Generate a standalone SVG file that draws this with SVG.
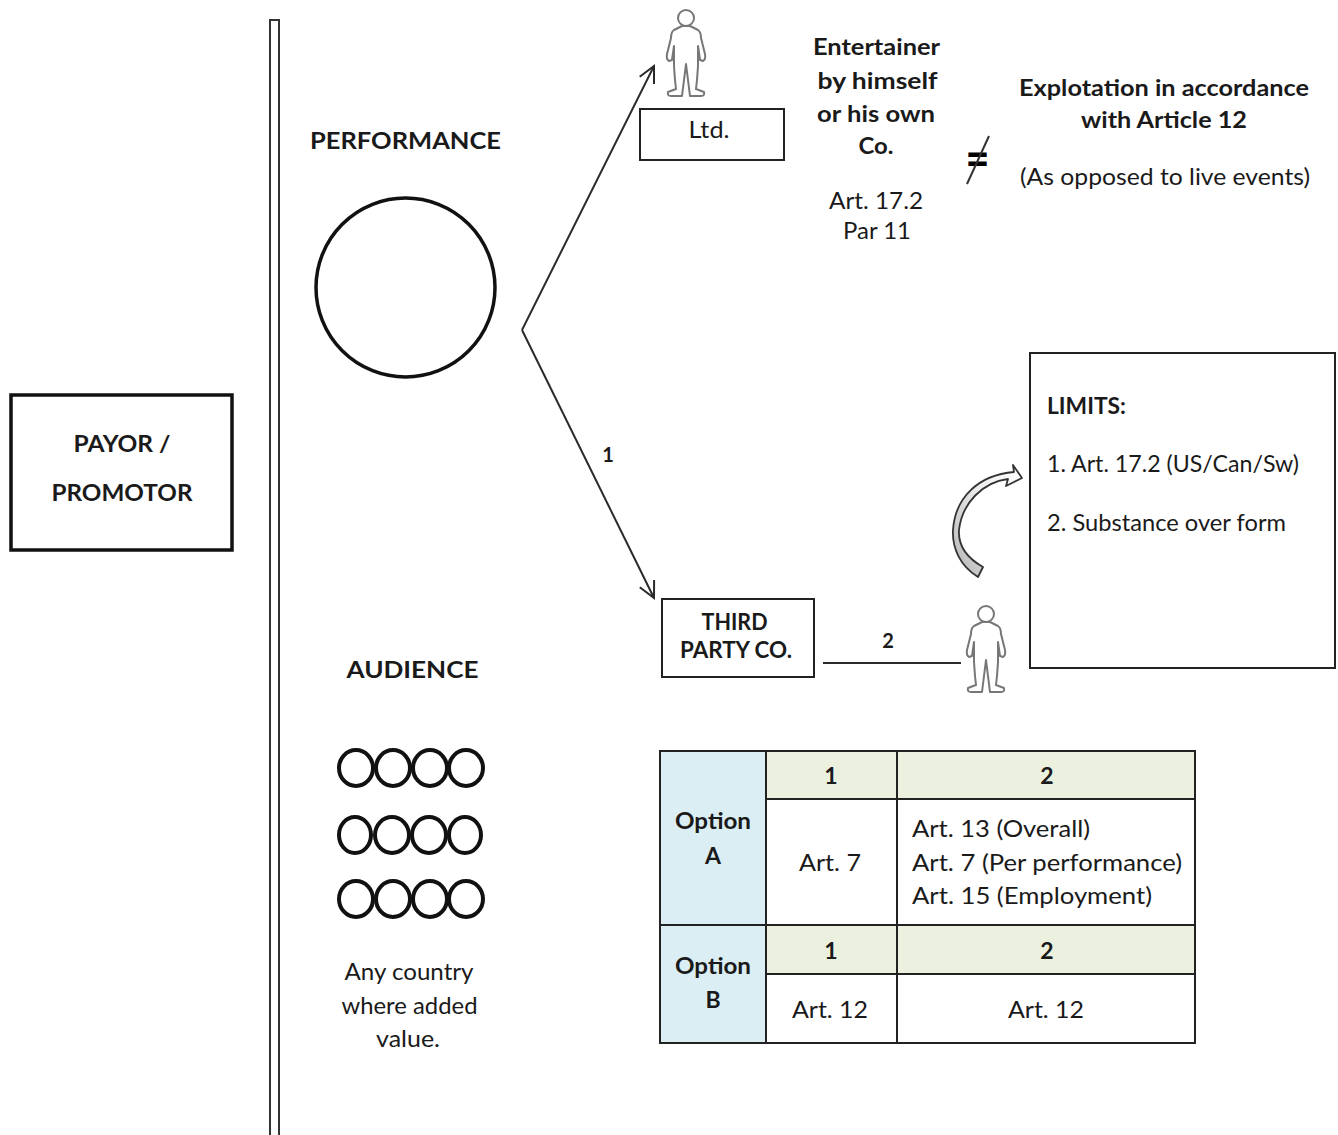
<svg xmlns="http://www.w3.org/2000/svg" width="1338" height="1135" viewBox="0 0 1338 1135">
<style>
text{font-family:Lato,"Noto Sans","Liberation Sans",sans-serif;fill:#1a1a1a;text-anchor:middle;font-size:23px}
.b{font-weight:700}
.s{text-anchor:start}
.box{fill:#fff;stroke:#222;stroke-width:2}
.ln{fill:none;stroke:#2a2a2a;stroke-width:2}
.c{fill:none;stroke:#111;stroke-width:4}
.fig{fill:#fff;stroke:#777;stroke-width:2;stroke-linejoin:round}
.blue{fill:#daeef3;stroke:#222;stroke-width:2}
.green{fill:#ebf1de;stroke:#222;stroke-width:2}
</style>
<defs>
<marker id="open" markerUnits="userSpaceOnUse" markerWidth="24" markerHeight="24" refX="19" refY="12" orient="auto"><path d="M3,4 L19,12 L3,20" fill="none" stroke="#2a2a2a" stroke-width="2"/></marker>
<linearGradient id="curve" x1="0" y1="1" x2="1" y2="0"><stop offset="0" stop-color="#b4b4b4"/><stop offset="0.6" stop-color="#eee"/><stop offset="1" stop-color="#fff"/></linearGradient>
<g id="person"><circle cx="0" cy="18" r="8"/><path d="M-4,26 L-12,30 Q-15,32 -15,38 L-19,54 Q-20,59 -17,61 L-14,60 L-12,46 L-12,66 L-11,80 L-10,89 L-18,92 Q-19,96 -15,96 L-4,96 L-2,80 L0,64 L2,80 L4,96 L15,96 Q19,96 18,92 L10,89 L11,80 L12,66 L12,46 L14,60 L17,61 Q20,59 19,54 L15,38 Q15,32 12,30 L4,26 Z"/></g>
</defs>

<g id="connectors">
<line class="ln" x1="522" y1="330" x2="654" y2="66" marker-end="url(#open)"/>
<line class="ln" x1="522" y1="330" x2="654" y2="598" marker-end="url(#open)"/>
<line class="ln" x1="823" y1="663" x2="961" y2="663"/>
<text class="b" x="608" y="462" style="font-size:20px">1</text>
<text class="b" x="888" y="648" style="font-size:20px">2</text>
</g>

<g id="divider"><rect x="270" y="20" width="9" height="1125" fill="#fff" stroke="#333" stroke-width="2"/></g>

<g id="payor">
<rect x="11" y="395" width="221" height="155" fill="#fff" stroke="#111" stroke-width="3.5"/>
<text class="b" x="122" y="452" textLength="97" lengthAdjust="spacingAndGlyphs">PAYOR /</text>
<text class="b" x="122" y="501" textLength="141" lengthAdjust="spacingAndGlyphs">PROMOTOR</text>
</g>

<g id="performance">
<text class="b" x="405.500" y="149" textLength="191" lengthAdjust="spacingAndGlyphs">PERFORMANCE</text>
<circle cx="405.500" cy="287.500" r="89.500" fill="#fff" stroke="#111" stroke-width="3.500"/>
</g>

<g id="audience">
<text class="b" x="412.500" y="678" textLength="132" lengthAdjust="spacingAndGlyphs">AUDIENCE</text>
<ellipse class="c" cx="356" cy="768" rx="17" ry="18"/><ellipse class="c" cx="393" cy="768" rx="17" ry="18"/><ellipse class="c" cx="430" cy="768" rx="17" ry="18"/><ellipse class="c" cx="466" cy="768" rx="17" ry="18"/>
<ellipse class="c" cx="355" cy="835" rx="16" ry="18"/><ellipse class="c" cx="392" cy="835" rx="17" ry="18"/><ellipse class="c" cx="429" cy="835" rx="17" ry="18"/><ellipse class="c" cx="465" cy="835" rx="16" ry="18"/>
<ellipse class="c" cx="356" cy="899" rx="17" ry="18"/><ellipse class="c" cx="393" cy="899" rx="17" ry="18"/><ellipse class="c" cx="430" cy="899" rx="17" ry="18"/><ellipse class="c" cx="466" cy="899" rx="17" ry="18"/>
<text x="409" y="980" textLength="129" lengthAdjust="spacingAndGlyphs">Any country</text>
<text x="409.500" y="1014" textLength="136" lengthAdjust="spacingAndGlyphs">where added</text>
<text x="408" y="1047" textLength="64" lengthAdjust="spacingAndGlyphs">value.</text>
</g>

<g id="person-top"><use href="#person" x="686" y="0" class="fig"/></g>
<g id="ltd"><rect class="box" x="640" y="109" width="144" height="51"/><text x="709" y="138" textLength="41" lengthAdjust="spacingAndGlyphs">Ltd.</text></g>

<g id="entertainer">
<text class="b" x="876.500" y="55" textLength="127" lengthAdjust="spacingAndGlyphs">Entertainer</text>
<text class="b" x="877.500" y="89" textLength="120" lengthAdjust="spacingAndGlyphs">by himself</text>
<text class="b" x="876" y="122" textLength="118" lengthAdjust="spacingAndGlyphs">or his own</text>
<text class="b" x="876" y="154" textLength="35" lengthAdjust="spacingAndGlyphs">Co.</text>
<text x="876" y="209" textLength="94" lengthAdjust="spacingAndGlyphs">Art. 17.2</text>
<text x="877" y="239" textLength="68" lengthAdjust="spacingAndGlyphs">Par 11</text>
</g>

<g id="not-equal">
<text class="b" x="977.500" y="176" style="font-size:50px;fill:#000" textLength="24" lengthAdjust="spacingAndGlyphs">=</text>
<line x1="989" y1="136" x2="967" y2="184" stroke="#333" stroke-width="2"/>
</g>

<g id="exploitation">
<text class="b" x="1164" y="96" textLength="290" lengthAdjust="spacingAndGlyphs">Explotation in accordance</text>
<text class="b" x="1164" y="128" textLength="166" lengthAdjust="spacingAndGlyphs">with Article 12</text>
<text x="1165" y="185" textLength="290" lengthAdjust="spacingAndGlyphs">(As opposed to live events)</text>
</g>

<g id="limits">
<rect class="box" x="1030" y="353" width="305" height="315"/>
<text class="b s" x="1047" y="414" textLength="79" lengthAdjust="spacingAndGlyphs">LIMITS:</text>
<text class="s" x="1047" y="472" textLength="252" lengthAdjust="spacingAndGlyphs">1. Art. 17.2 (US/Can/Sw)</text>
<text class="s" x="1047" y="531" textLength="239" lengthAdjust="spacingAndGlyphs">2. Substance over form</text>
</g>

<g id="curved-arrow"><path d="M978,577 C960,566 952,548 953,530 C955,498 978,475 1014,472 L1013,465 L1022,478 L1006,486 L1008,479 C983,482 962,503 959,530 C958,546 967,558 983,567 Z" fill="url(#curve)" stroke="#333" stroke-width="1.800" stroke-linejoin="round"/></g>

<g id="third-party">
<rect class="box" x="662" y="599" width="152" height="78"/>
<text class="b" x="734.500" y="630" textLength="66" lengthAdjust="spacingAndGlyphs">THIRD</text>
<text class="b" x="736" y="658" textLength="112" lengthAdjust="spacingAndGlyphs">PARTY CO.</text>
</g>
<g id="person-bottom"><use href="#person" x="986" y="596" class="fig"/></g>

<g id="table">
<rect class="blue" x="660" y="751" width="106" height="174"/>
<rect class="blue" x="660" y="925" width="106" height="118"/>
<rect class="green" x="766" y="751" width="131" height="48"/>
<rect class="green" x="897" y="751" width="298" height="48"/>
<rect class="box" x="766" y="799" width="131" height="126"/>
<rect class="box" x="897" y="799" width="298" height="126"/>
<rect class="green" x="766" y="925" width="131" height="49"/>
<rect class="green" x="897" y="925" width="298" height="49"/>
<rect class="box" x="766" y="974" width="131" height="69"/>
<rect class="box" x="897" y="974" width="298" height="69"/>
<text class="b" x="713" y="829" textLength="76" lengthAdjust="spacingAndGlyphs">Option</text>
<text class="b" x="713" y="864">A</text>
<text class="b" x="713" y="974" textLength="76" lengthAdjust="spacingAndGlyphs">Option</text>
<text class="b" x="713" y="1008">B</text>
<text class="b" x="831" y="784">1</text>
<text class="b" x="1047" y="784">2</text>
<text x="830" y="871" textLength="62" lengthAdjust="spacingAndGlyphs">Art. 7</text>
<text class="s" x="912" y="837" textLength="178" lengthAdjust="spacingAndGlyphs">Art. 13 (Overall)</text>
<text class="s" x="912" y="871" textLength="270" lengthAdjust="spacingAndGlyphs">Art. 7 (Per performance)</text>
<text class="s" x="912" y="904" textLength="240" lengthAdjust="spacingAndGlyphs">Art. 15 (Employment)</text>
<text class="b" x="831" y="959">1</text>
<text class="b" x="1047" y="959">2</text>
<text x="830" y="1018" textLength="76" lengthAdjust="spacingAndGlyphs">Art. 12</text>
<text x="1046" y="1018" textLength="76" lengthAdjust="spacingAndGlyphs">Art. 12</text>
</g>
</svg>
